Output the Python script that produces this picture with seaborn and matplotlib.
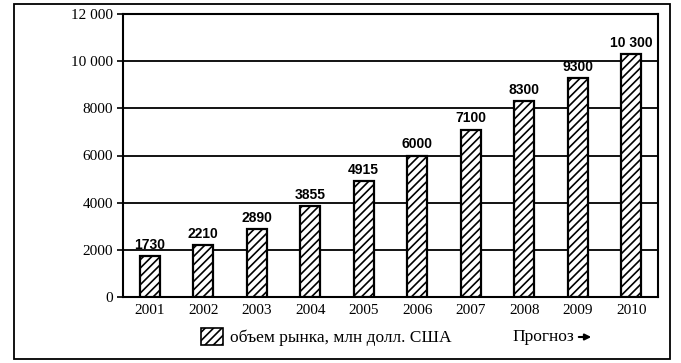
import matplotlib
matplotlib.use("Agg")
from matplotlib import pyplot as plt
from matplotlib.patches import Patch, Rectangle
import seaborn as sns
import pandas as pd

# данные диаграммы
years = ['2001', '2002', '2003', '2004', '2005', '2006', '2007', '2008', '2009', '2010']
market_volume = [1730, 2210, 2890, 3855, 4915, 6000, 7100, 8300, 9300, 10300]
value_labels = ['1730', '2210', '2890', '3855', '4915', '6000', '7100', '8300', '9300', '10 300']
y_ticks = [0, 2000, 4000, 6000, 8000, 10000, 12000]
y_tick_labels = ['0', '2000', '4000', '6000', '8000', '10 000', '12 000']
legend_label = 'объем рынка, млн долл. США'
forecast_label = 'Прогноз'

sns.set_style('white')
plt.rcParams['font.family'] = ['Liberation Serif', 'DejaVu Serif']
plt.rcParams['text.color'] = 'black'
plt.rcParams['xtick.color'] = 'black'
plt.rcParams['ytick.color'] = 'black'
plt.rcParams['hatch.linewidth'] = 1.2

df = pd.DataFrame({'year': years, 'volume': market_volume})

fig = plt.figure(figsize=(6.81, 3.63), dpi=100)
ax = fig.add_axes([123 / 681, 1 - 297 / 363, (658 - 123) / 681, (297 - 14) / 363])

sns.barplot(data=df, x='year', y='volume', ax=ax, color='white',
            edgecolor='black', linewidth=1.6, width=0.38, zorder=3)
for p in ax.patches:
    p.set_hatch('////')

ax.bar_label(ax.containers[0], labels=value_labels, padding=3, fontsize=10,
             fontweight='bold', color='black', family=['Liberation Sans', 'DejaVu Sans'])

ax.set_ylim(0, 12000)
ax.set_yticks(y_ticks)
ax.set_yticklabels(y_tick_labels)
ax.yaxis.grid(True, color='black', linewidth=1.3, zorder=0)
ax.set_axisbelow(True)
for s in ax.spines.values():
    s.set_color('black')
    s.set_linewidth(1.5)
ax.tick_params(axis='y', length=4, width=1.2, labelsize=11, pad=3, left=True, labelcolor='black')
ax.tick_params(axis='x', length=0, labelsize=11, pad=5, labelcolor='black')
ax.set_xlabel('')
ax.set_ylabel('')

# легенда под осью
handle = Patch(facecolor='white', edgecolor='black', hatch='////', linewidth=1.2)
fig.legend(handles=[handle], labels=[legend_label], loc='center left',
           bbox_to_anchor=(185 / 681, 1 - 337 / 363), frameon=False,
           fontsize=12.5, handlelength=1.3, handleheight=1.2, handletextpad=0.4,
           labelcolor='black')
fig.text(512 / 681, 1 - 337 / 363, forecast_label, fontsize=12.5, va='center', ha='left')
fig.add_artist(plt.Annotation('', xy=(594 / 681, 1 - 337 / 363), xytext=(576 / 681, 1 - 337 / 363),
                              xycoords='figure fraction',
                              arrowprops=dict(arrowstyle='-|>', color='black', lw=1.5,
                                              mutation_scale=9)))

# рамка вокруг рисунка
fig.add_artist(Rectangle((14 / 681, 4 / 363), (670 - 14) / 681, (359 - 4) / 363,
                         transform=fig.transFigure, fill=False, edgecolor='black', linewidth=1.3))

fig.savefig('out.png', dpi=100)
